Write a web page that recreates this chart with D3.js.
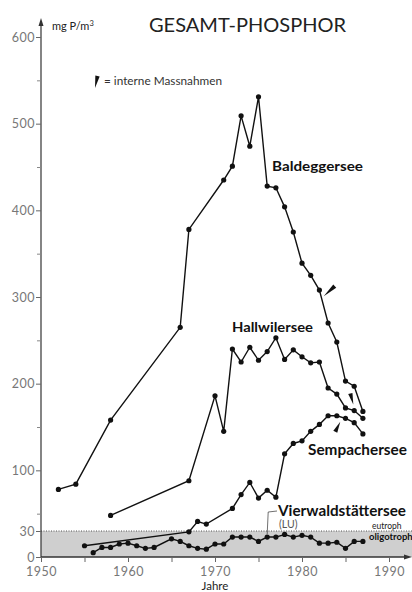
<!DOCTYPE html>
<html><head><meta charset="utf-8">
<script src="https://cdn.jsdelivr.net/npm/d3@7"></script>
<style>
html,body{margin:0;padding:0;background:#fff;}
svg{display:block;font-family:Lato,"DejaVu Sans",sans-serif;}
</style></head>
<body><svg id="c" width="412" height="592"></svg>
<script>
// ---- data ----
const baldeggYears  = [1952,1954,1958,1966,1967,1971,1972,1973,1974,1975,1976,1977,1978,1979,1980,1981,1982,1983,1984,1985,1986,1987];
const baldeggValues = [78,84,158,265,378,435,451,509,474,531,428,426,404,375,339,325,308,270,248,203,197,168];
const hallwilYears  = [1958,1967,1970,1971,1972,1973,1974,1975,1976,1977,1978,1979,1980,1981,1982,1983,1984,1985,1986,1987];
const hallwilValues = [48,88,186,145,240,225,242,227,237,253,228,239,231,224,225,195,188,172,169,160];
const sempachYears  = [1955,1967,1968,1969,1972,1973,1974,1975,1976,1977,1978,1979,1980,1981,1982,1983,1984,1985,1986,1987];
const sempachValues = [13,29,41,38,56,72,86,68,77,69,119,131,134,145,153,163,163,160,155,142];
const vierwYears    = [1956,1957,1958,1959,1960,1961,1962,1963,1965,1966,1967,1968,1969,1970,1971,1972,1973,1974,1975,1976,1977,1978,1979,1980,1981,1982,1983,1984,1985,1986,1987];
const vierwValues   = [5,11,11,15,16,13,10,11,21,18,13,10,9,15,15,23,23,23,18,23,23,26,23,25,23,16,16,17,10,18,18];
const yTickValues   = [0,30,100,200,300,400,500,600];
const yMinorTicks   = [50,150,250,350,450,550];
const xTickValues   = [1950,1960,1970,1980,1990];
const xMinorTicks   = [1955,1965,1975,1985];
// internal measures markers: year/value at the wedge tip, and wedge direction
const measureYears  = [1982.5,1985.9,1984.4];
const measureValues = [301,176,156];
const measureDirs   = [[11,-10],[-3,-11],[-5,10]];
const oligoLimit = 30;

const svg = d3.select("#c");
const x = d3.scaleLinear().domain([1950,1990]).range([41,389]);
const y = d3.scaleLinear().domain([0,600]).range([557,37]);

// oligotroph band
svg.append("rect").attr("x",x(1950)).attr("y",y(oligoLimit)).attr("width",412-x(1950)).attr("height",y(0)-y(oligoLimit))
  .attr("fill","#cfcfcf");
svg.append("line").attr("x1",x(1950)).attr("x2",412).attr("y1",y(oligoLimit)).attr("y2",y(oligoLimit))
  .attr("stroke","#555").attr("stroke-width",1).attr("stroke-dasharray","1,1.5");

// axes
const axisCol="#333";
svg.append("line").attr("x1",x(1950)).attr("x2",x(1950)).attr("y1",y(0)).attr("y2",22).attr("stroke",axisCol).attr("stroke-width",1.2);
svg.append("path").attr("d",`M${x(1950)},18 L${x(1950)-2.5},26 L${x(1950)+2.5},26Z`).attr("fill",axisCol);
svg.append("line").attr("x1",x(1950)).attr("x2",408).attr("y1",y(0)).attr("y2",y(0)).attr("stroke",axisCol).attr("stroke-width",1.4);
svg.append("path").attr("d",`M412,${y(0)} L404,${y(0)-2.5} L404,${y(0)+2.5}Z`).attr("fill",axisCol);

const yAxis = d3.axisLeft(y).tickValues(yTickValues).tickSize(5).tickFormat(d3.format("d"));
const gy = svg.append("g").attr("transform",`translate(${x(1950)},0)`).call(yAxis);
gy.select(".domain").remove();
gy.selectAll("line").attr("stroke","#666");
gy.selectAll("text").attr("font-size",12.5).attr("fill","#777").attr("font-family","Lato,sans-serif").attr("x",-6).attr("letter-spacing",0.5);
const gy2 = svg.append("g").attr("transform",`translate(${x(1950)},0)`).call(d3.axisLeft(y).tickValues(yMinorTicks).tickSize(4).tickFormat(""));
gy2.select(".domain").remove(); gy2.selectAll("line").attr("stroke","#888");

const xAxis = d3.axisBottom(x).tickValues(xTickValues).tickSize(5).tickFormat(d3.format("d"));
const gx = svg.append("g").attr("transform",`translate(0,${y(0)})`).call(xAxis);
gx.select(".domain").remove();
gx.selectAll("line").attr("stroke","#666");
gx.selectAll("text").attr("font-size",12.5).attr("fill","#777").attr("dy","0.9em").attr("font-family","Lato,sans-serif").attr("letter-spacing",0.5);
const gx2 = svg.append("g").attr("transform",`translate(0,${y(0)})`).call(d3.axisBottom(x).tickValues(xMinorTicks).tickSize(5).tickFormat(""));
gx2.select(".domain").remove(); gx2.selectAll("line").attr("stroke","#666");

svg.append("text").attr("x",x(1970)).attr("y",590).attr("text-anchor","middle").attr("font-size",11.5).attr("fill","#222").text("Jahre");

// series
const series = [
  {years:baldeggYears, values:baldeggValues},
  {years:hallwilYears, values:hallwilValues},
  {years:sempachYears, values:sempachValues},
  {years:vierwYears, values:vierwValues}
];
const line = d3.line().x(d=>x(d[0])).y(d=>y(d[1]));
series.forEach(s=>{
  const pts = s.years.map((yr,i)=>[yr,s.values[i]]);
  svg.append("path").datum(pts).attr("d",line).attr("fill","none").attr("stroke","#111").attr("stroke-width",1.4);
  svg.append("g").selectAll("circle").data(pts).join("circle")
    .attr("cx",d=>x(d[0])).attr("cy",d=>y(d[1])).attr("r",2.6).attr("fill","#111");
});

// wedge markers
function wedge(tx,ty,dx,dy){
  const L=Math.hypot(dx,dy), ux=dx/L, uy=dy/L, px=-uy, py=ux, w=2.2;
  const bx=tx+dx, by=ty+dy;
  return `M${tx},${ty} L${bx+px*w},${by+py*w} L${bx-px*w},${by-py*w}Z`;
}
measureYears.forEach((yr,i)=>{
  svg.append("path").attr("d",wedge(x(yr),y(measureValues[i]),measureDirs[i][0],measureDirs[i][1])).attr("fill","#111");
});
svg.append("path").attr("d",wedge(95,88,2.5,-12)).attr("fill","#111");
svg.append("text").attr("x",104).attr("y",85).attr("font-size",11).attr("fill","#333")
  .attr("textLength",118).attr("lengthAdjust","spacingAndGlyphs").text("= interne Massnahmen");

// labels
svg.append("text").attr("x",149).attr("y",32).attr("font-size",19.5).attr("fill","#222")
  .attr("textLength",197).attr("lengthAdjust","spacingAndGlyphs").text("GESAMT-PHOSPHOR");
const unit = svg.append("text").attr("x",52).attr("y",30).attr("font-size",11).attr("fill","#222");
unit.append("tspan").text("mg P/m");
unit.append("tspan").attr("font-size",7.5).attr("dy",-4).text("3");

const lab = (t,xx,yy,fs,len)=>svg.append("text").attr("x",xx).attr("y",yy).attr("font-size",fs).attr("font-weight","bold").attr("fill","#111")
  .attr("textLength",len).attr("lengthAdjust","spacingAndGlyphs").text(t);
lab("Baldeggersee",272,171,13,91);
lab("Hallwilersee",232,332,13,81);
lab("Sempachersee",308,455,14.5,99);
lab("Vierwaldstättersee",278,516,14.5,128);
svg.append("text").attr("x",279).attr("y",528).attr("font-size",10.5).attr("fill","#555").text("(LU)");
svg.append("path").attr("d",`M${x(1976)},${y(23)-3} L${x(1976)+1},512 L277,511`).attr("fill","none").attr("stroke","#333").attr("stroke-width",0.7);
svg.append("text").attr("x",372).attr("y",529).attr("font-size",8.5).attr("fill","#222").text("eutroph");
svg.append("text").attr("x",369).attr("y",540).attr("font-size",9.5).attr("font-weight","bold").attr("fill","#111").text("oligotroph");
</script></body></html>
